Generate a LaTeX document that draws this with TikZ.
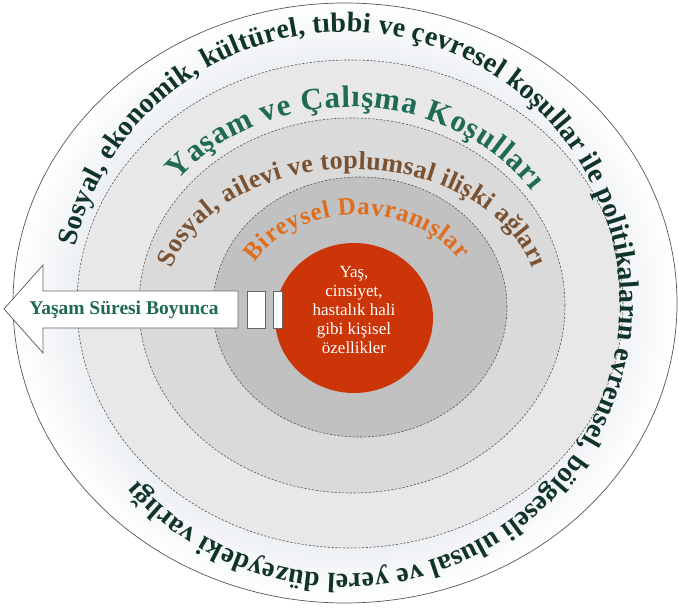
\documentclass[tikz,border=0pt]{standalone}
\usepackage{fontspec}
\setmainfont{Liberation Serif}
\usetikzlibrary{decorations.text,shapes.geometric}
\definecolor{ringA}{HTML}{E8E8E8}
\definecolor{ringB}{HTML}{DADADA}
\definecolor{ringC}{HTML}{C1C1C1}
\definecolor{outerTint}{HTML}{ECEFF3}
\definecolor{coreRed}{HTML}{CC3508}
\definecolor{darkGreen}{HTML}{10342A}
\definecolor{midGreen}{HTML}{1E6A55}
\definecolor{brownTxt}{HTML}{7A5232}
\definecolor{orangeTxt}{HTML}{DE6E1E}
\definecolor{lineGrey}{HTML}{555555}
\definecolor{arrowGrey}{HTML}{666666}
\pgfdeclareradialshading{outerglow}{\pgfpoint{0bp}{0bp}}{color(0bp)=(outerTint); color(20bp)=(outerTint); color(25bp)=(white); color(50bp)=(white)}
\newcommand\txtOuter{\fontsize{28}{32}\selectfont\bfseries}
\newcommand\txtLiving{\fontsize{31}{35}\selectfont\bfseries}
\newcommand\txtSocial{\fontsize{26}{30}\selectfont\bfseries}
\newcommand\txtBehav{\fontsize{25}{29}\selectfont\bfseries}
\begin{document}
\begin{tikzpicture}[x=1pt,y=1pt,
  ringline/.style={draw=lineGrey, line width=0.6pt, dash pattern=on 2.2pt off 1.6pt},
  boxline/.style={draw=arrowGrey, line width=0.8pt, fill=white},
  curvtext/.style={decorate, decoration={text along path, text align={fit to path}}}]
\useasboundingbox (0,0) rectangle (679,610);
% outer ellipse
\draw[draw=lineGrey, line width=0.7pt, shading=outerglow] (345,307) ellipse [x radius=332, y radius=300];
% rings
\draw[ringline, fill=ringA] (350,306) ellipse [x radius=273, y radius=244];
\draw[ringline, fill=ringB] (352,304.5) ellipse [x radius=213, y radius=187.5];
\draw[ringline, fill=ringC] (360,303) ellipse [x radius=147, y radius=130];
% core
\node (core) [ellipse, fill=coreRed, minimum width=158, minimum height=150, inner sep=0pt] at (354,292) {};
\node (coretext) [align=center, text=white, font=\fontsize{17}{19.2}\selectfont] at (354,300)
  {Yaş,\\cinsiyet,\\hastalık hali\\gibi kişisel\\özellikler};
% arrow
\draw[boxline, line join=miter] (238,319) -- (43,319) -- (43,345) -- (4,301) -- (43,257) -- (43,282) -- (238,282) -- cycle;
\node (lifespan) [text=midGreen, font=\fontsize{19.5}{22}\selectfont\bfseries] at (124,300.5) {Yaşam Süresi Boyunca};
\node (barA) [boxline, minimum width=18, minimum height=37, inner sep=0pt] at (256,300.5) {};
\node (barB) [boxline, minimum width=9, minimum height=37, inner sep=0pt] at (277.5,300.5) {};
% curved texts
\path[curvtext, decoration={text color=darkGreen, text={|\txtOuter|Sosyal, ekonomik, kültürel, tıbbi ve çevresel koşullar ile politikaların evrensel, bölgeseli ulusal ve yerel düzeydeki varlığı}}]
  (345,307) ++(168:275 and 271) arc[start angle=168, end angle=-139, x radius=275, y radius=271];
\path[curvtext, decoration={text color=midGreen, text={|\txtLiving|Yaşam ve Çalışma Koşulları}}]
  (350,305) ++(141:222 and 198) arc[start angle=141, end angle=35, x radius=222, y radius=198];
\path[curvtext, decoration={text color=brownTxt, text={|\txtSocial|Sosyal, ailevi ve toplumsal ilişki ağları}}]
  (352,304) ++(164:188 and 137) arc[start angle=164, end angle=16, x radius=188, y radius=137];
\path[curvtext, decoration={text color=orangeTxt, text={|\txtBehav|Bireysel Davranışlar}}]
  (358,308) ++(153:116 and 87) arc[start angle=153, end angle=29, x radius=116, y radius=87];
\end{tikzpicture}
\end{document}
